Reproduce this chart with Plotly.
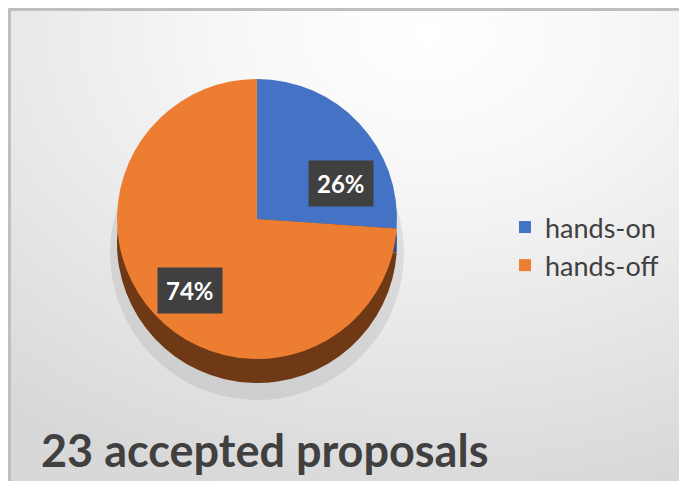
import base64
import plotly.graph_objects as go

# ---- data ----
categories = ["hands-on", "hands-off"]
proposals = [6, 17]
top_colors = ["#4472C4", "#ED7D31"]
side_colors = ["#2E4C85", "#6E3914"]
title_text = f"{sum(proposals)} accepted proposals"

# page has an 8px body margin; figure fills the rest of the 687x489 window
OFF = 8
W, H = 687 - 2 * OFF, 489 - 2 * OFF
total = sum(proposals)
pct = [f"{round(100 * v / total)}%" for v in proposals]


def px_x(x):
    return (x - OFF) / W


def px_y(y):
    return 1 - (y - OFF) / H


cx, cy, r = 257, 219, 140
depth = 24


def dom(cyy, rr=r):
    return dict(x=[px_x(cx - rr), px_x(cx + rr)], y=[px_y(cyy + rr), px_y(cyy - rr)])


fig = go.Figure()

# soft shadow
fig.add_trace(go.Pie(
    labels=categories, values=proposals, sort=False, direction="clockwise", rotation=0,
    marker=dict(colors=["rgba(0,0,0,0.08)"] * 2, line=dict(width=0)),
    textinfo="none", hoverinfo="skip", showlegend=False,
    domain=dom(cy + depth + 10, r + 7),
))
# side (thickness)
fig.add_trace(go.Pie(
    labels=categories, values=proposals, sort=False, direction="clockwise", rotation=0,
    marker=dict(colors=side_colors, line=dict(width=0)),
    textinfo="none", hoverinfo="skip", showlegend=False,
    domain=dom(cy + depth),
))
# top face
fig.add_trace(go.Pie(
    labels=categories, values=proposals, sort=False, direction="clockwise", rotation=0,
    marker=dict(colors=top_colors, line=dict(width=0)),
    textinfo="none", showlegend=True,
    domain=dom(cy),
))

# background gradient
svg = f'''<svg xmlns="http://www.w3.org/2000/svg" width="{W}" height="{H}">
<defs><radialGradient id="g" cx="0.62" cy="0.05" r="1.0" fx="0.62" fy="0.05">
<stop offset="0" stop-color="#ffffff"/><stop offset="0.3" stop-color="#f7f7f7"/>
<stop offset="1" stop-color="#d8d8d8"/></radialGradient></defs>
<rect width="{W}" height="{H}" fill="url(#g)"/></svg>'''
src = "data:image/svg+xml;base64," + base64.b64encode(svg.encode()).decode()

fig.update_layout(
    width=W, height=H,
    margin=dict(l=0, r=0, t=0, b=0),
    paper_bgcolor="white",
    images=[dict(source=src, xref="paper", yref="paper", x=px_x(10), y=px_y(10),
                 sizex=1.0, sizey=1.0, xanchor="left", yanchor="top",
                 sizing="stretch", layer="below")],
    shapes=[dict(type="rect", xref="paper", yref="paper",
                 x0=px_x(9.5), y0=-0.05, x1=1.05, y1=px_y(9.5),
                 line=dict(color="#BFBFBF", width=3), fillcolor="rgba(0,0,0,0)")],
    legend=dict(x=px_x(505), y=px_y(203), xanchor="left", yanchor="top",
                font=dict(family="Lato", size=27, color="#404040"),
                bgcolor="rgba(0,0,0,0)", itemclick=False, tracegroupgap=0),
    showlegend=True,
    font=dict(family="Lato"),
)

# title at bottom
fig.add_annotation(text=f"<b>{title_text}</b>", xref="paper", yref="paper",
                   x=px_x(39), y=px_y(450), xanchor="left", yanchor="middle",
                   showarrow=False, font=dict(family="Lato", size=45, color="#404040"))

# data labels (dark boxes)
label_pos = [(341, 160), (157, 290)]
for t, (lx, ly) in zip(pct, label_pos):
    fig.add_annotation(text=f"<b>{t}</b>", xref="paper", yref="paper",
                       x=px_x(lx), y=px_y(ly), showarrow=False,
                       font=dict(family="Lato", size=24, color="white"),
                       bgcolor="#404040", borderpad=8)

fig.write_html("out.html")
